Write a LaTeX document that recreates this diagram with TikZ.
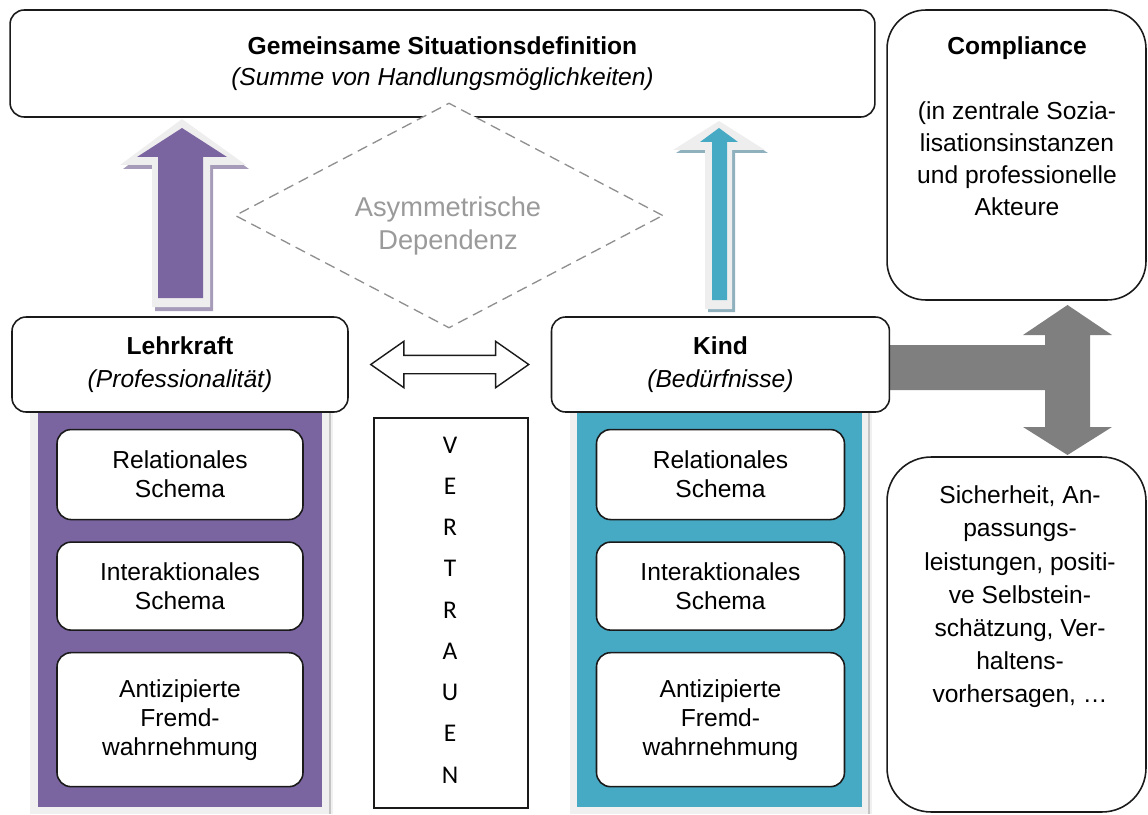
\documentclass[tikz,border=0pt]{standalone}
\usepackage{fontspec}
\setmainfont{Liberation Sans}
\newfontfamily\vtfont{Carlito}
\usetikzlibrary{positioning, shapes.geometric, shapes.arrows, calc}
\definecolor{lkPurple}{HTML}{7B65A1}
\definecolor{lkShadow}{HTML}{A69CB9}
\definecolor{kdBlue}{HTML}{47AAC5}
\definecolor{kdShadow}{HTML}{8FB1BE}
\definecolor{outGray}{HTML}{EEEEEE}
\definecolor{colGray}{HTML}{F0F0F0}
\definecolor{lineGray}{HTML}{C4C4C4}
\definecolor{blockGray}{HTML}{7F7F7F}
\definecolor{dashGray}{HTML}{8F8F8F}
\definecolor{textGray}{HTML}{9A9A9A}
\definecolor{boxLine}{HTML}{1A1A1A}
\tikzset{
  boxMain/.style={rectangle, rounded corners=8pt, draw=boxLine, fill=white,
                  line width=0.9pt, align=center, inner sep=2pt,
                  font=\fontsize{14}{18.5}\selectfont},
  boxInner/.style={boxMain, minimum width=4.92cm,
                   font=\fontsize{14}{16.5}\selectfont},
  boxSide/.style={boxMain, minimum width=5.18cm},
  textSide/.style={align=center, inner sep=0pt},
}

\begin{document}
\begin{tikzpicture}[x=0.02cm, y=-0.02cm]
    \useasboundingbox (0,0) rectangle (1148,814);
    % top: shared definition of the situation
    \node[boxMain, minimum width=17.3cm, minimum height=2.14cm, font=\fontsize{14}{18}\selectfont]
          (sit) at (442.5,63.5) {\textbf{Gemeinsame Situationsdefinition}\\\textit{(Summe von Handlungsmöglichkeiten)}};
    \node[diamond, draw=dashGray, fill=white, dash pattern=on 6pt off 3.5pt, line width=0.75pt,
          minimum width=8.56cm, minimum height=4.5cm, inner sep=0pt] (dep) at (449,215.5) {};
    \node[textSide, text=textGray, font=\fontsize{15.5}{19}\selectfont]
          (depT) at (448,226) {Asymmetrische\\Dependenz};

    % block arrows up
    \fill[lkShadow] (185,123) -- (249,169) -- (213,169) -- (213,311) -- (155,311) -- (155,169) -- (123,169) -- cycle;
    \fill[outGray] (182,119) -- (246,165) -- (210,165) -- (210,307) -- (152,307) -- (152,165) -- (120,165) -- cycle;
    \fill[lkPurple] (182,128) -- (227,157) -- (203,157) -- (203,298) -- (158,298) -- (158,157) -- (137,157) -- cycle;
    \fill[kdShadow] (722,124) -- (768,153) -- (735,153) -- (735,312) -- (708,312) -- (708,153) -- (676,153) -- cycle;
    \fill[outGray] (719,121) -- (765,150) -- (732,150) -- (732,309) -- (705,309) -- (705,150) -- (673,150) -- cycle;
    \fill[kdBlue] (719,128) -- (738,142) -- (727,142) -- (727,300) -- (712,300) -- (712,142) -- (700,142) -- cycle;

    % columns
    \fill[colGray] (30,405) rectangle (333,814);
    \draw[lineGray, line width=0.8pt] (330,405) -- (330,814);
    \fill[lkPurple] (38,400) rectangle (322,807);
    \fill[colGray] (570,405) rectangle (872,814);
    \draw[lineGray, line width=0.8pt] (869,405) -- (869,814);
    \fill[kdBlue] (577,400) rectangle (862,807);

    % grey block arrow to the right
    \fill[blockGray] (880,345) -- (1045,345) -- (1045,335) -- (1023,335) -- (1067.5,305) -- (1112,335)
          -- (1090,335) -- (1090,427) -- (1112,427) -- (1067.5,455) -- (1023,427) -- (1045,427)
          -- (1045,390) -- (880,390) -- cycle;

    % actors
    \node[boxMain, minimum width=6.72cm, minimum height=1.9cm] (lk) at (180,364.5)
          {\textbf{Lehrkraft}\\\textit{(Professionalität)}};
    \node[boxMain, minimum width=6.76cm, minimum height=1.9cm, right=4.04cm of lk] (kd)
          {\textbf{Kind}\\\textit{(Bedürfnisse)}};
    \node[double arrow, draw=boxLine, fill=white, line width=0.8pt, minimum height=3.16cm,
          minimum width=0.9cm, inner sep=0.17cm, double arrow head extend=0.28cm,
          double arrow tip angle=70] (both) at ($(lk.east)!0.5!(kd.west)$) {};

    \node[boxInner, minimum height=1.8cm, below=0.32cm of lk] (lk1) {Relationales\\Schema};
    \node[boxInner, minimum height=1.76cm, below=0.42cm of lk1] (lk2) {Interaktionales\\Schema};
    \node[boxInner, minimum height=2.68cm, below=0.42cm of lk2] (lk3) {Antizipierte\\Fremd-\\wahrnehmung};
    \node[boxInner, minimum width=4.96cm, minimum height=1.8cm, below=0.32cm of kd] (kd1) {Relationales\\Schema};
    \node[boxInner, minimum width=4.96cm, minimum height=1.76cm, below=0.42cm of kd1] (kd2) {Interaktionales\\Schema};
    \node[boxInner, minimum width=4.96cm, minimum height=2.68cm, below=0.42cm of kd2] (kd3) {Antizipierte\\Fremd-\\wahrnehmung};

    % trust
    \node[draw=boxLine, line width=0.9pt, minimum width=3.08cm, minimum height=7.8cm] (trust) at (451,613) {};
    \foreach \ch [count=\i] in {V,E,R,T,R,A,U,E,N}
      \node[font=\vtfont\fontsize{14.5}{16}\selectfont, inner sep=0pt] (v\i) at (450,{445+(\i-1)*41.25}) {\ch};

    % right side
    \node[boxSide, rounded corners=22pt, minimum height=5.8cm] (comp) at (1016.5,155) {};
    \node[textSide, font=\bfseries\fontsize{14}{18}\selectfont] (compT) at (1017,48) {Compliance};
    \node[textSide, font=\fontsize{14}{18.2}\selectfont] (compB) at (1017,158.5)
          {(in zentrale Sozia-\\lisationsinstanzen\\und professionelle\\Akteure};
    \node[boxSide, rounded corners=25pt, minimum height=7.1cm] (res) at (1016.5,634.5) {};
    \node[textSide, font=\fontsize{14}{18.9}\selectfont] (resT) at (1020,597)
          {Sicherheit, An-\\passungs-\\leistungen, positi-\\ve Selbstein-\\schätzung, Ver-\\haltens-\\vorhersagen, \dots};
  \end{tikzpicture}
\end{document}
